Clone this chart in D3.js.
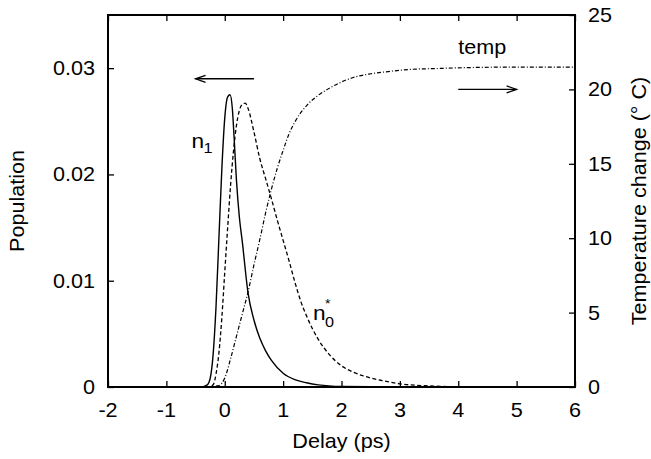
<!DOCTYPE html>
<html>
<head>
<meta charset="utf-8">
<script src="https://cdn.jsdelivr.net/npm/d3@7"></script>
<style>
  body { margin: 0; background: #fff; }
  text { font-family: "Liberation Sans", Arial, sans-serif; fill: #000; }
</style>
</head>
<body>
<div id="chart-area"></div>
<script>
// delay values (ps) for each curve
var n1Delay = [-2, -0.4, -0.3, -0.25, -0.2, -0.15, -0.1, -0.05, 0, 0.05, 0.09, 0.13, 0.16, 0.2, 0.25, 0.3, 0.4, 0.5, 0.6, 0.7, 0.8, 1.0, 1.2, 1.4, 1.6, 2, 3, 6];
var n1Pop   = [0, 0, 0.0002, 0.0008, 0.003, 0.0075, 0.014, 0.0205, 0.0253, 0.0273, 0.0275, 0.0262, 0.0235, 0.0195, 0.016, 0.0137, 0.0088, 0.0063, 0.0046, 0.0034, 0.0025, 0.0013, 0.0007, 0.0004, 0.0002, 0.00005, 0, 0];

var n0Delay = [-2, -0.3, -0.2, -0.15, -0.1, -0.05, 0, 0.05, 0.1, 0.15, 0.2, 0.25, 0.3, 0.35, 0.4, 0.5, 0.6, 0.7, 0.8, 0.9, 1.0, 1.1, 1.2, 1.3, 1.4, 1.5, 1.6, 1.8, 2.0, 2.2, 2.4, 2.7, 3.0, 3.5, 4, 6];
var n0Pop   = [0, 0, 0.0002, 0.0012, 0.0032, 0.0065, 0.0108, 0.015, 0.019, 0.0222, 0.0246, 0.026, 0.0266, 0.0267, 0.0262, 0.024, 0.0215, 0.0196, 0.0177, 0.0157, 0.0138, 0.0119, 0.0099, 0.0081, 0.0067, 0.0055, 0.0045, 0.003, 0.002, 0.0014, 0.001, 0.0006, 0.0003, 0.0001, 0.00003, 0];

var tempDelay = [-2, -0.3, -0.1, 0, 0.1, 0.2, 0.3, 0.4, 0.5, 0.6, 0.7, 0.8, 0.9, 1.0, 1.1, 1.2, 1.4, 1.6, 1.8, 2.0, 2.2, 2.5, 2.8, 3.2, 3.6, 4, 5, 6];
var tempChange = [0, 0, 0.1, 0.6, 1.9, 3.4, 4.9, 6.4, 8.2, 9.9, 11.7, 13.3, 14.7, 15.9, 17.0, 17.8, 18.9, 19.6, 20.1, 20.5, 20.8, 21.05, 21.2, 21.35, 21.4, 21.45, 21.5, 21.5];

var xTicks = [-2, -1, 0, 1, 2, 3, 4, 5, 6];
var yLeftTicks = [0, 0.01, 0.02, 0.03];
var yRightTicks = [0, 5, 10, 15, 20, 25];

const MARGIN = { LEFT: 108, RIGHT: 76, TOP: 15, BOTTOM: 72 }
const WIDTH = 651 - MARGIN.LEFT - MARGIN.RIGHT
const HEIGHT = 459 - MARGIN.TOP - MARGIN.BOTTOM
const FONT = 20
const SX = 1.08   // glyphs in the picture are a bit wide

const svg = d3.select("#chart-area").append("svg")
            .attr("width", 651)
            .attr("height", 459)

const g = svg.append("g")
       .attr("transform", `translate(${MARGIN.LEFT}, ${MARGIN.TOP})`)

var xScale = d3.scaleLinear().domain([-2, 6]).range([0, WIDTH]);
var yScale = d3.scaleLinear().domain([0, 0.035]).range([HEIGHT, 0]);
var yRight = d3.scaleLinear().domain([0, 25]).range([HEIGHT, 0]);

function label(parent, x, y, str, size, anchor, rot) {
  return parent.append("text")
    .attr("transform", `translate(${x},${y}) rotate(${rot || 0}) scale(${SX},1)`)
    .attr("text-anchor", anchor || "start")
    .style("font-size", size + "px")
    .text(str);
}

// axes, ticks inside
var bottomAxis = g.append("g")
  .attr("transform", "translate(0," + HEIGHT + ")")
  .call(d3.axisBottom(xScale).tickValues(xTicks).tickSize(-6).tickFormat(""));
var topAxis = g.append("g")
  .call(d3.axisTop(xScale).tickValues(xTicks).tickSize(-6).tickFormat(""));
var leftAxis = g.append("g")
  .call(d3.axisLeft(yScale).tickValues(yLeftTicks).tickSize(-6).tickFormat(""));
var rightAxis = g.append("g")
  .attr("transform", "translate(" + WIDTH + ",0)")
  .call(d3.axisRight(yRight).tickValues(yRightTicks).tickSize(-6).tickFormat(""));

g.selectAll(".domain").remove();
g.selectAll(".tick line").attr("stroke", "#000").attr("stroke-width", 1.3);

g.append("rect")
  .attr("width", WIDTH).attr("height", HEIGHT)
  .attr("fill", "none").attr("stroke", "#000").attr("stroke-width", 2);

xTicks.forEach(function(t) {
  label(g, xScale(t), HEIGHT + 30, t, FONT, "middle");
});
yLeftTicks.forEach(function(t) {
  label(g, -13, yScale(t) + 7, t, FONT, "end");
});
yRightTicks.forEach(function(t) {
  label(g, WIDTH + 13, yRight(t) + 7, t, FONT, "start");
});

label(g, WIDTH / 2, HEIGHT + 61, "Delay (ps)", FONT, "middle");
label(g, -84, HEIGHT / 2, "Population", FONT, "middle", -90);
label(g, WIDTH + 71, HEIGHT / 2, "Temperature change (\u00b0 C)", FONT, "middle", -90);

// curves
var lineLeft = function(xs, ys) {
  return d3.line().x(function(d, i) { return xScale(xs[i]); })
    .y(function(d) { return yScale(d); })
    .curve(d3.curveMonotoneX)(ys);
};
var lineRight = function(xs, ys) {
  return d3.line().x(function(d, i) { return xScale(xs[i]); })
    .y(function(d) { return yRight(d); })
    .curve(d3.curveMonotoneX)(ys);
};

g.append("path")
  .attr("fill", "none").attr("stroke", "#000").attr("stroke-width", 1.4)
  .attr("d", lineLeft(n1Delay, n1Pop));

g.append("path")
  .attr("fill", "none").attr("stroke", "#000").attr("stroke-width", 1.3)
  .attr("stroke-dasharray", "4,2.5")
  .attr("d", lineLeft(n0Delay, n0Pop));

g.append("path")
  .attr("fill", "none").attr("stroke", "#000").attr("stroke-width", 1.2)
  .attr("stroke-dasharray", "4,2,1,2")
  .attr("d", lineRight(tempDelay, tempChange));

// arrows pointing at each axis
function arrow(x1, x2, y) {
  var dir = x2 > x1 ? 1 : -1;
  g.append("line")
    .attr("x1", x1).attr("x2", x2).attr("y1", y).attr("y2", y)
    .attr("stroke", "#000").attr("stroke-width", 1.3);
  g.append("path")
    .attr("d", `M${x2 - dir * 10},${y - 3.5} L${x2},${y} L${x2 - dir * 10},${y + 3.5}`)
    .attr("fill", "none").attr("stroke", "#000").attr("stroke-width", 1.3);
}
arrow(xScale(0.5), xScale(-0.5), yScale(0.029));
arrow(xScale(4.0), xScale(5.0), yRight(20));

// curve labels
var l1 = label(g, xScale(-0.57), yScale(0.0225), "n", 21, "start");
label(g, xScale(-0.57) + 12, yScale(0.0225) + 5, "1", 15, "start");

label(g, xScale(1.51), yScale(0.0063), "n", 21, "start");
label(g, xScale(1.51) + 12, yScale(0.0063) + 7, "0", 15, "start");
label(g, xScale(1.51) + 12, yScale(0.0063) - 12, "*", 13, "start");

label(g, xScale(4.0), yRight(21.5) - 13, "temp", FONT, "start");
</script>
</body>
</html>
